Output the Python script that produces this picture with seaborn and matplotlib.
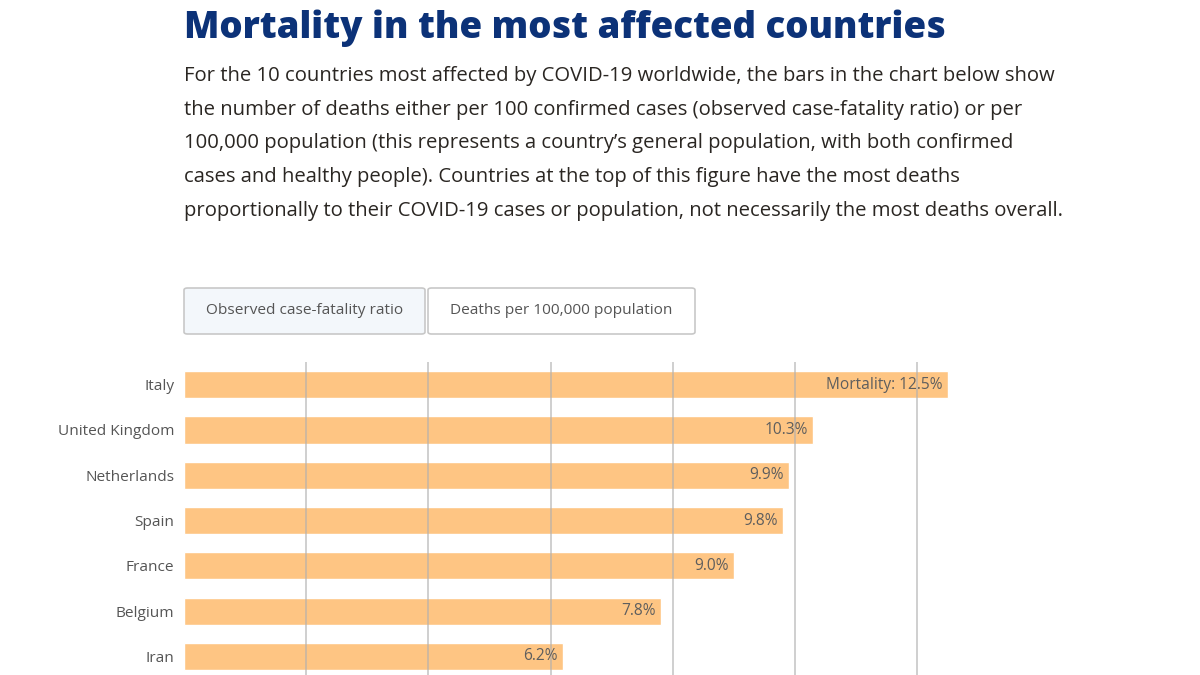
import matplotlib
matplotlib.use("Agg")
import matplotlib.pyplot as plt
import seaborn as sns
import pandas as pd
from matplotlib.patches import FancyBboxPatch

# values (only the first 7 of the 10 rows are visible)
countries = ["Italy", "United Kingdom", "Netherlands", "Spain", "France", "Belgium", "Iran"]
mortality = [12.5, 10.3, 9.9, 9.8, 9.0, 7.8, 6.2]
xticks = [2, 4, 6, 8, 10, 12]
buttons = ["Observed case-fatality ratio", "Deaths per 100,000 population"]

title = "Mortality in the most affected countries"
intro = [
    "For the 10 countries most affected by COVID-19 worldwide, the bars in the chart below show",
    "the number of deaths either per 100 confirmed cases (observed case-fatality ratio) or per",
    "100,000 population (this represents a country\u2019s general population, with both confirmed",
    "cases and healthy people). Countries at the top of this figure have the most deaths",
    "proportionally to their COVID-19 cases or population, not necessarily the most deaths overall.",
]

df = pd.DataFrame({"country": countries, "mortality": mortality})

sns.set_theme(style="white")
plt.rcParams['font.family'] = ['Open Sans', 'DejaVu Sans']

W, H = 1200, 675
fig = plt.figure(figsize=(12, 6.75), dpi=100)

# plot area: x from 184px, top at 362px, running off the bottom edge
left, top = 184 / W, 1 - 362 / H
px_per_unit = 61.1
xmax = 13.5
ax = fig.add_axes([left, 0, xmax * px_per_unit / W, top])

sns.barplot(data=df, x="mortality", y="country", color="#fec583", width=0.6,
            saturation=1, ax=ax, zorder=1)

ax.set_xlim(0, xmax)
rows_visible = top * H / 45.3
ax.set_ylim(-0.5 + rows_visible, -0.5)
ax.set_xticks(xticks)
ax.set_xticklabels([])
ax.tick_params(axis="x", length=0)
ax.tick_params(axis="y", length=0, pad=7, labelsize=11.1, labelcolor="#555555")
ax.set_xlabel("")
ax.set_ylabel("")
for s in ax.spines.values():
    s.set_visible(False)
for t in xticks:
    ax.axvline(t, color="#b0b0b0", lw=1.2, alpha=0.7, zorder=3)

for i, v in enumerate(mortality):
    label = f"Mortality: {v:.1f}%" if i == 0 else f"{v:.1f}%"
    ax.text(v - 0.08, i, label, ha="right", va="center", fontsize=11.2,
            color="#5e5e5e", zorder=4)

# title and intro text
fig.text(184 / W, 1 - 28 / H, title, fontsize=26.4, fontweight="heavy",
         color="#0c3278", va="center", ha="left")
for k, line in enumerate(intro):
    fig.text(184 / W, 1 - (76 + k * 33.7) / H, line, fontsize=14.6,
             color="#2a2622", va="center", ha="left")

# toggle buttons
boxes = [(184, 425, "#f3f7fb"), (428, 695, "white")]
for (x0, x1, fc), lab in zip(boxes, buttons):
    fig.patches.append(FancyBboxPatch((x0 / W, 1 - 334 / H), (x1 - x0) / W, 46 / H,
                                      boxstyle="round,pad=0,rounding_size=0.003",
                                      transform=fig.transFigure, fc=fc,
                                      ec="#c8c8c8", lw=1.2))
    fig.text((x0 + x1) / 2 / W, 1 - 311 / H, lab, fontsize=11.1, color="#555555",
             ha="center", va="center")

fig.savefig("out.png", dpi=100)
